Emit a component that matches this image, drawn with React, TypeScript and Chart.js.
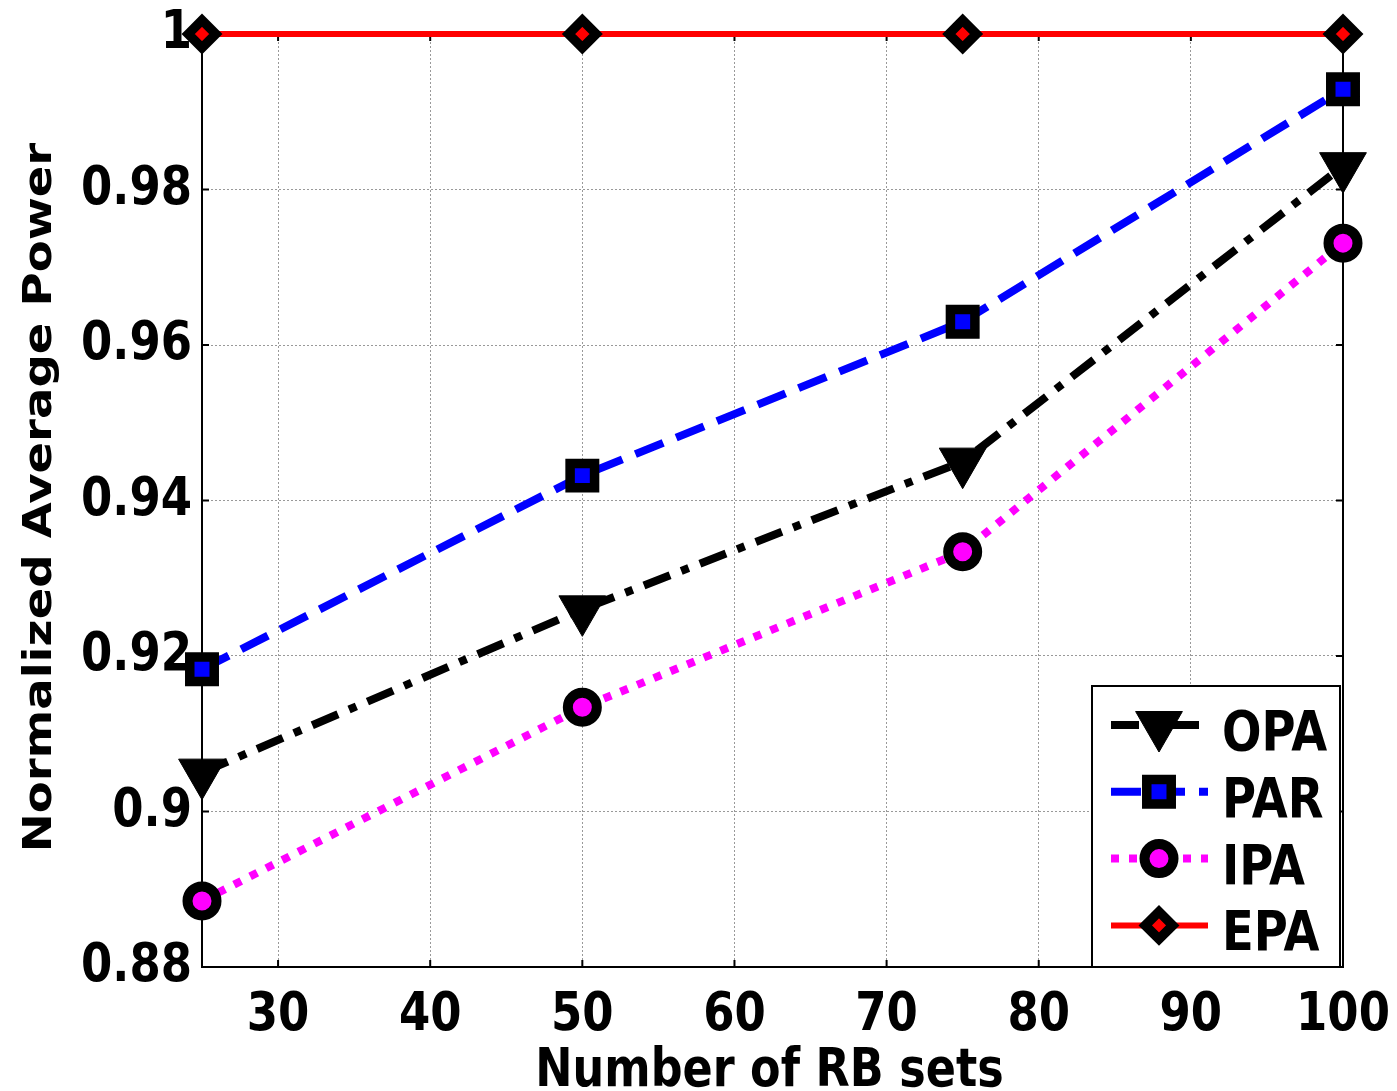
import React, { useEffect, useRef } from 'react';
import { Chart, registerables } from 'chart.js';
import { drawPoint } from 'chart.js/helpers';

Chart.register(...registerables);

const rbSets = [25, 50, 75, 100];
const opa = [0.905, 0.926, 0.945, 0.983];
const par = [0.9183, 0.9432, 0.963, 0.9929];
const ipa = [0.8885, 0.9134, 0.9334, 0.9731];
const epa = [1, 1, 1, 1];
const seriesNames = ['OPA', 'PAR', 'IPA', 'EPA'];
const xTicks = [30, 40, 50, 60, 70, 80, 90, 100];
const yTicks = [0.88, 0.9, 0.92, 0.94, 0.96, 0.98, 1];
const xTitle = 'Number of RB sets';
const yTitle = 'Normalized Average Power';

const FONT = '"DejaVu Sans", Verdana, sans-serif';
const STRETCH = 1.2;

const toPts = (vals: number[]) => rbSets.map((x, i) => ({ x, y: vals[i] }));
const fmtY = (v: number) => String(Number(v.toFixed(2)));

function stretchedText(
  ctx: CanvasRenderingContext2D,
  text: string,
  x: number,
  y: number,
  align: CanvasTextAlign,
  baseline: CanvasTextBaseline,
  size: number,
  rotate = false
) {
  ctx.save();
  ctx.translate(x, y);
  if (rotate) {
    ctx.rotate(-Math.PI / 2);
    ctx.scale(STRETCH, 1);
  } else {
    ctx.scale(1, STRETCH);
  }
  ctx.font = `bold ${size}px ${FONT}`;
  ctx.fillStyle = '#000';
  ctx.textAlign = align;
  ctx.textBaseline = baseline;
  ctx.fillText(text, 0, 0);
  ctx.restore();
}

const framePlugin = {
  id: 'frame',
  beforeDatasetsDraw(chart: any) {
    const { ctx, chartArea: a, scales } = chart;
    ctx.save();
    ctx.strokeStyle = '#000';
    ctx.lineWidth = 2;
    ctx.beginPath();
    ctx.moveTo(a.right, a.top);
    ctx.lineTo(a.right, a.bottom);
    ctx.moveTo(a.left, a.top);
    ctx.lineTo(a.right, a.top);
    ctx.stroke();
    const L = 7;
    ctx.beginPath();
    xTicks.forEach((v) => {
      const px = scales.x.getPixelForValue(v);
      ctx.moveTo(px, a.bottom);
      ctx.lineTo(px, a.bottom - L);
      ctx.moveTo(px, a.top);
      ctx.lineTo(px, a.top + L);
    });
    yTicks.forEach((v) => {
      const py = scales.y.getPixelForValue(v);
      ctx.moveTo(a.left, py);
      ctx.lineTo(a.left + L, py);
      ctx.moveTo(a.right, py);
      ctx.lineTo(a.right - L, py);
    });
    ctx.stroke();
    ctx.restore();

    yTicks.forEach((v) => {
      const py = scales.y.getPixelForValue(v);
      stretchedText(ctx, fmtY(v), a.left - 10, py, 'right', 'middle', 45);
    });
    xTicks.forEach((v) => {
      const px = scales.x.getPixelForValue(v);
      stretchedText(ctx, String(v), px, a.bottom + 63, 'center', 'alphabetic', 45);
    });
    stretchedText(ctx, xTitle, (a.left + a.right) / 2 - 3, a.bottom + 119, 'center', 'alphabetic', 44.5);
    stretchedText(ctx, yTitle, 50.5, (a.top + a.bottom) / 2 - 3, 'center', 'alphabetic', 38.8, true);
  },
};

const legendPlugin = {
  id: 'boxLegend',
  afterDraw(chart: any) {
    const { ctx, chartArea: a } = chart;
    const w = 248;
    const h = 281;
    const left = a.right - 3 - w;
    const top = a.bottom - h;
    ctx.save();
    ctx.fillStyle = '#fff';
    ctx.fillRect(left, top, w, h);
    ctx.strokeStyle = '#000';
    ctx.lineWidth = 2;
    ctx.strokeRect(left, top, w, h);
    chart.data.datasets.forEach((ds: any, i: number) => {
      const y = top + 39 + i * 66.8;
      ctx.setLineDash(ds.borderDash || []);
      ctx.lineWidth = ds.borderWidth;
      ctx.strokeStyle = ds.borderColor;
      ctx.beginPath();
      ctx.moveTo(left + 19, y);
      ctx.lineTo(left + 116, y);
      ctx.stroke();
      ctx.setLineDash([]);
      ctx.fillStyle = ds.pointBackgroundColor;
      ctx.strokeStyle = ds.pointBorderColor;
      ctx.lineWidth = ds.pointBorderWidth;
      drawPoint(
        ctx,
        {
          pointStyle: ds.pointStyle,
          rotation: ds.pointRotation || 0,
          radius: ds.pointRadius,
          borderWidth: ds.pointBorderWidth,
        } as any,
        left + 67,
        y
      );
      stretchedText(ctx, ds.label, left + 130, y + 25, 'left', 'alphabetic', 46.5);
    });
    ctx.restore();
  },
};

export default function App() {
  const ref = useRef<HTMLCanvasElement | null>(null);

  useEffect(() => {
    if (!ref.current) return;
    const chart = new Chart(ref.current, {
      type: 'line',
      data: {
        datasets: [
          {
            label: seriesNames[0],
            data: toPts(opa),
            borderColor: '#000000',
            borderWidth: 8,
            borderDash: [28, 12, 8, 12],
            pointStyle: 'triangle',
            pointRotation: 180,
            pointRadius: 27,
            pointHoverRadius: 27,
            pointBorderWidth: 1,
            pointBackgroundColor: '#000000',
            pointBorderColor: '#000000',
            clip: false,
          } as any,
          {
            label: seriesNames[1],
            data: toPts(par),
            borderColor: '#0000ff',
            borderWidth: 8,
            borderDash: [30, 14],
            pointStyle: 'rect',
            pointRadius: 17.3,
            pointHoverRadius: 17.3,
            pointBorderWidth: 9.5,
            pointBackgroundColor: '#0000ff',
            pointBorderColor: '#000000',
            clip: false,
          } as any,
          {
            label: seriesNames[2],
            data: toPts(ipa),
            borderColor: '#ff00ff',
            borderWidth: 8,
            borderDash: [8, 10],
            pointStyle: 'circle',
            pointRadius: 14.5,
            pointHoverRadius: 14.5,
            pointBorderWidth: 10,
            pointBackgroundColor: '#ff00ff',
            pointBorderColor: '#000000',
            clip: false,
          } as any,
          {
            label: seriesNames[3],
            data: toPts(epa),
            borderColor: '#ff0000',
            borderWidth: 6,
            borderDash: [],
            pointStyle: 'rectRot',
            pointRadius: 13.75,
            pointHoverRadius: 13.75,
            pointBorderWidth: 9.5,
            pointBackgroundColor: '#ff0000',
            pointBorderColor: '#000000',
            clip: false,
          } as any,
        ],
      },
      options: {
        responsive: false,
        animation: false,
        events: [],
        layout: { padding: { top: 34, right: 54, left: 0, bottom: 0 } },
        plugins: {
          legend: { display: false },
          tooltip: { enabled: false },
        },
        scales: {
          x: {
            type: 'linear',
            min: 25,
            max: 100,
            afterBuildTicks: (s: any) => {
              s.ticks = xTicks.map((v) => ({ value: v }));
            },
            afterFit: (s: any) => {
              s.height = 124;
            },
            ticks: { display: false },
            grid: { color: 'rgba(0,0,0,0.4)', lineWidth: 1, drawTicks: false },
            border: { color: '#000', width: 2, dash: [2, 2] },
            title: { display: false, text: xTitle },
          },
          y: {
            type: 'linear',
            min: 0.88,
            max: 1,
            afterBuildTicks: (s: any) => {
              s.ticks = yTicks.map((v) => ({ value: v }));
            },
            afterFit: (s: any) => {
              s.width = 202;
            },
            ticks: { display: false },
            grid: { color: 'rgba(0,0,0,0.4)', lineWidth: 1, drawTicks: false },
            border: { color: '#000', width: 2, dash: [2, 2] },
            title: { display: false, text: yTitle },
          },
        },
      },
      plugins: [framePlugin, legendPlugin],
    });
    return () => chart.destroy();
  }, []);

  return (
    <div style={{ position: 'fixed', left: 0, top: 0, width: 1397, height: 1091, background: '#fff' }}>
      <canvas ref={ref} width={1397} height={1091} style={{ display: 'block' }} />
    </div>
  );
}
